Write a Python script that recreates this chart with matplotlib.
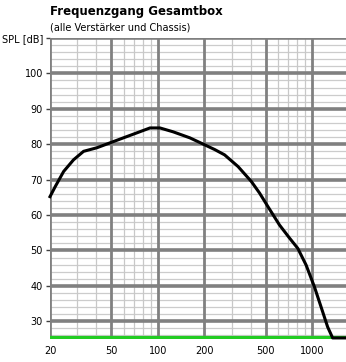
import numpy as np
import matplotlib
matplotlib.use("Agg")
import matplotlib.pyplot as plt
from matplotlib.ticker import FixedLocator, NullFormatter

# frequency response
freq = [20, 21.6, 24.5, 28.4, 33, 40.2, 49, 59.7, 72.9, 88.8, 103, 125.5, 161,
        233, 270, 330, 402, 455, 515, 612, 711, 804, 910, 1031, 1137, 1255,
        1352, 1650]
spl = [65.2, 68, 72.3, 75.6, 78, 79, 80.4, 81.8, 83.2, 84.6, 84.6, 83.5, 81.8,
       78.5, 77, 73.7, 69.5, 66.2, 62.4, 57.2, 53.5, 50.6, 45.9, 39.7, 34.1,
       28.4, 25.3, 25.3]

xticks = [20, 50, 100, 200, 500, 1000]
xminor = [30, 40, 60, 70, 80, 90, 300, 400, 600, 700, 800, 900]
yticks = [30, 40, 50, 60, 70, 80, 90, 100, 110]
ylabels = ["30", "40", "50", "60", "70", "80", "90", "100", "SPL [dB]"]

plt.rcParams['font.family'] = ['DejaVu Sans']

fig = plt.figure(figsize=(3.46, 3.62), dpi=100)
ax = fig.add_axes([50/346, 1-339/362, 1-50/346, (339-38)/362])
ax.set_xscale("log")
ax.set_xlim(20, 1650)
ax.set_ylim(25, 110)

# grid
for y in np.arange(26, 110, 2):
    if y % 10 != 0:
        ax.axhline(y, color="#cccccc", lw=0.9, zorder=1)
for x in xminor:
    ax.axvline(x, color="#c8c8c8", lw=0.9, zorder=1)
for y in yticks:
    ax.axhline(y, color="#808080", lw=2.6, zorder=2)
for x in xticks:
    ax.axvline(x, color="#808080", lw=2.0, zorder=2)

ax.axhline(25.2, color="#22cc22", lw=3, zorder=4)
ax.plot(freq, spl, color="black", lw=2.2, zorder=5, clip_on=False)

ax.xaxis.set_major_locator(FixedLocator(xticks))
ax.xaxis.set_minor_locator(FixedLocator(xminor))
ax.xaxis.set_minor_formatter(NullFormatter())
ax.set_xticklabels([str(x) for x in xticks])
ax.set_yticks(yticks)
ax.set_yticklabels(ylabels)
ax.tick_params(axis="both", which="both", length=3, width=1, color="#404040",
               labelsize=7, pad=2)
ax.tick_params(axis="x", which="minor", length=0)
ax.tick_params(axis="x", which="major", length=0, pad=5)
for s in ax.spines.values():
    s.set_visible(False)

fig.text(50/346, 1-12/362, "Frequenzgang Gesamtbox", fontsize=8.5,
         fontweight="bold", va="center", ha="left")
fig.text(50/346, 1-28/362, "(alle Verstärker und Chassis)", fontsize=7,
         va="center", ha="left")

fig.savefig("out.png", dpi=100)
